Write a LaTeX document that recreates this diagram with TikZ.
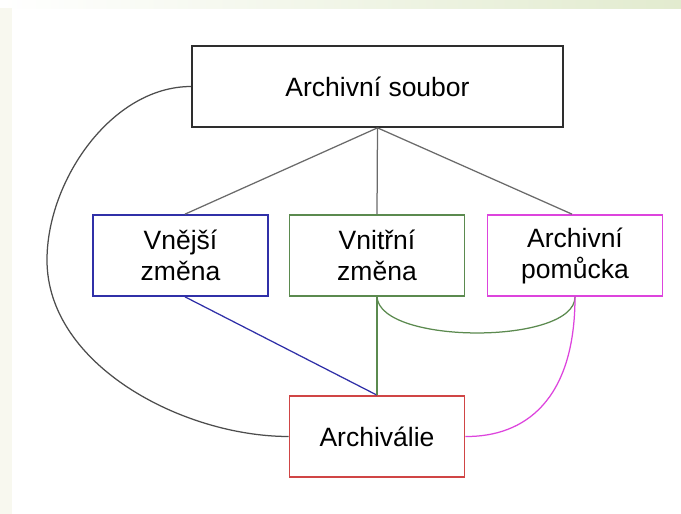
\documentclass[tikz,border=0pt]{standalone}
\usepackage{fontspec}
\setmainfont{Liberation Sans}
\definecolor{edgegray}{HTML}{6A6A6A}
\definecolor{boxblack}{HTML}{2E2E2E}
\definecolor{cblue}{HTML}{3030A8}
\definecolor{cgreen}{HTML}{5B8A4F}
\definecolor{cmag}{HTML}{DD44DD}
\definecolor{cred}{HTML}{D04545}
\definecolor{topstrip}{HTML}{E2EBCF}
\definecolor{leftstrip}{HTML}{F8F8EF}
\begin{document}
\begin{tikzpicture}[x=1pt,y=-1pt,
  box/.style={draw, line width=1.7pt, fill=white, minimum width=175pt, minimum height=81pt,
    align=center, font=\fontsize{26.5}{31}\selectfont, inner sep=0pt},
  link/.style={line width=1.25pt}]
\useasboundingbox (0,0) rectangle (681,514);
\fill[white] (0,0) rectangle (681,514);
\shade[left color=white, right color=topstrip] (0,0) rectangle (681,8);
\fill[leftstrip] (0,8) rectangle (12,514);

\node[box, draw=boxblack, minimum width=371pt] (soubor) at (377.5,86.5) {Archivní soubor};
\node[box, draw=cblue] (vnejsi) at (180.5,255.5) {Vnější\\změna};
\node[box, draw=cgreen] (vnitrni) at (377,255.5) {Vnitřní\\změna};
\node[box, draw=cmag] (pomucka) at (575,255.5) {Archivní\\pomůcka};
\node[box, draw=cred] (archivalie) at (377,436.5) {Archiválie};

\coordinate (lw) at (47,260);
\coordinate (vt) at ([xshift=4.5pt]vnejsi.north);
\coordinate (vb) at ([xshift=4.5pt]vnejsi.south);
\coordinate (pt) at ([xshift=-3pt]pomucka.north);
\coordinate (pb) at (pomucka.south);

\draw[link, edgegray] (soubor.south) -- (vt);
\draw[link, edgegray] (soubor.south) -- (vnitrni.north);
\draw[link, edgegray] (soubor.south) -- (pt);
\draw[link, cblue] (vb) -- (archivalie.north);
\draw[link, cgreen] (vnitrni.south) -- (archivalie.north);
\draw[link, cgreen] (vnitrni.south) .. controls (380,345) and (575,345) .. (pb);
\draw[link, cmag] (pb) .. controls (575,400) and (525,437) .. (archivalie.east);
\draw[link, boxblack!85] (soubor.west) to[out=180,in=90,looseness=0.9] (lw) to[out=-90,in=180,looseness=0.9] (archivalie.west);
\end{tikzpicture}
\end{document}
